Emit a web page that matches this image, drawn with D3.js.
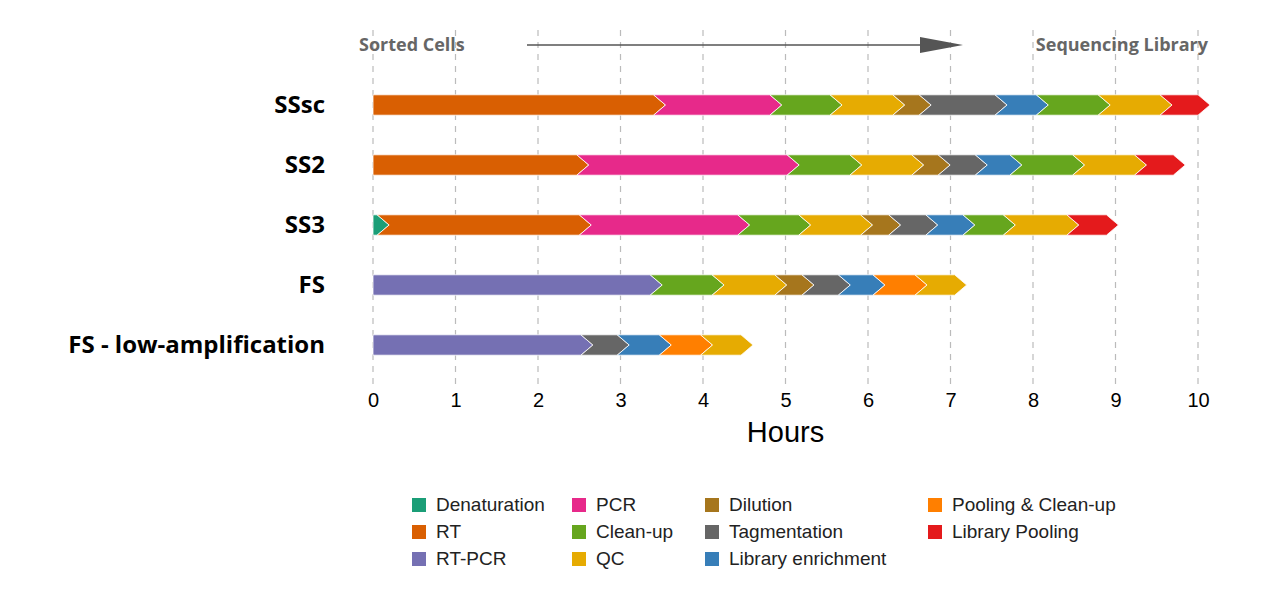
<!DOCTYPE html><html><head><meta charset="utf-8"><script src="https://d3js.org/d3.v7.min.js"></script>
<style>body{margin:0;background:#fff}text{font-family:"Open Sans",Arial,sans-serif}</style></head><body><svg width="1269" height="595"></svg>
<script>
const methods=["SSsc","SS2","SS3","FS","FS - low-amplification"];
const steps=[
 [["RT",3.40],["PCR",1.41],["Clean-up",0.73],["QC",0.76],["Dilution",0.32],["Tagmentation",0.92],["Library enrichment",0.50],["Clean-up",0.75],["QC",0.75],["Library Pooling",0.46]],
 [["RT",2.47],["PCR",2.55],["Clean-up",0.76],["QC",0.75],["Dilution",0.32],["Tagmentation",0.45],["Library enrichment",0.42],["Clean-up",0.76],["QC",0.75],["Library Pooling",0.47]],
 [["Denaturation",0.05],["RT",2.45],["PCR",1.92],["Clean-up",0.74],["QC",0.75],["Dilution",0.34],["Tagmentation",0.45],["Library enrichment",0.45],["Clean-up",0.49],["QC",0.77],["Library Pooling",0.48]],
 [["RT-PCR",3.36],["Clean-up",0.75],["QC",0.76],["Dilution",0.33],["Tagmentation",0.44],["Library enrichment",0.42],["Pooling & Clean-up",0.51],["QC",0.48]],
 [["RT-PCR",2.52],["Tagmentation",0.44],["Library enrichment",0.51],["Pooling & Clean-up",0.50],["QC",0.49]]
];
const legendItems=["Denaturation","RT","RT-PCR","PCR","Clean-up","QC","Dilution","Tagmentation","Library enrichment","Pooling & Clean-up","Library Pooling"];
const colors=["#1b9e77","#d95f02","#7570b3","#e7298a","#66a61e","#e6ab02","#a6761d","#666666","#377eb8","#ff7f00","#e41a1c"];
const ticks=[0,1,2,3,4,5,6,7,8,9,10];
const color=d3.scaleOrdinal(legendItems,colors);
const svg=d3.select("svg");
const x=d3.scaleLinear([0,10],[373,1198]);
const y=d3.scaleBand(methods,[75,375]).paddingInner(0.66).paddingOuter(0.33);
// grid
svg.selectAll("line.g").data(ticks).join("line").attr("x1",d=>x(d)).attr("x2",d=>x(d)).attr("y1",30).attr("y2",385)
 .attr("stroke","#bbb").attr("stroke-width",1.2).attr("stroke-dasharray","6,6");
// header
svg.append("text").attr("x",359).attr("y",51).attr("font-size",18).attr("font-weight","bold").attr("fill","#666").text("Sorted Cells");
svg.append("text").attr("x",1208).attr("y",51).attr("font-size",18).attr("font-weight","bold").attr("fill","#666").attr("text-anchor","end").text("Sequencing Library");
svg.append("line").attr("x1",527).attr("x2",925).attr("y1",45).attr("y2",45).attr("stroke","#555").attr("stroke-width",1.5);
svg.append("path").attr("d","M920,37L963,45L920,53Z").attr("fill","#555");
// bars
const d=12;
methods.forEach((m,i)=>{
  const g=svg.append("g"); const top=y(m),h=y.bandwidth(),mid=top+h/2;
  let acc=0;
  const segs=steps[i].map(([n,v],j)=>{const s={n,a:acc,b:acc+v,first:j==0};acc+=v;return s;});
  g.selectAll("path").data(segs).join("path").attr("d",s=>{
    const x0=x(s.a),x1=x(s.b);
    return `M${x0},${top}L${x1},${top}L${x1+d},${mid}L${x1},${top+h}L${x0},${top+h}`+(s.first?"":`L${x0+d},${mid}`)+"Z";
  }).attr("fill",s=>color(s.n)).attr("stroke","#fff").attr("stroke-width",0.8);
  svg.append("text").attr("x",325).attr("y",mid+8).attr("text-anchor","end").attr("font-size",24).attr("font-weight","bold").attr("fill","#000").text(m);
});
// axis
const ax=svg.append("g").attr("transform","translate(0,385)").call(d3.axisBottom(x).tickValues(ticks).tickSize(0).tickPadding(8));
ax.select(".domain").remove();
ax.selectAll("text").attr("font-size",20).attr("fill","#000").style("font-family","Arial,Liberation Sans,sans-serif");
svg.append("text").attr("x",x(5)).attr("y",442).attr("text-anchor","middle").attr("font-size",29).style("font-family","Arial,Liberation Sans,sans-serif").text("Hours");
// legend
const cols=[412,572,705,928];
const pos=[[0,0],[0,1],[0,2],[1,0],[1,1],[1,2],[2,0],[2,1],[2,2],[3,0],[3,1]];
const lg=svg.selectAll("g.l").data(legendItems).join("g").attr("transform",(n,i)=>`translate(${cols[pos[i][0]]},${498+pos[i][1]*27})`);
lg.append("rect").attr("width",14).attr("height",14).attr("fill",n=>color(n));
lg.append("text").attr("x",24).attr("y",13).attr("font-size",19).style("font-family","Arial,Liberation Sans,sans-serif").attr("fill","#222").text(n=>n);
</script></body></html>
